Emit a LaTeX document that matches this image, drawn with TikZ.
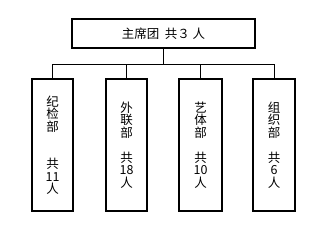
\documentclass[tikz,border=0pt]{standalone}
\usepackage{fontspec}
\setmainfont{Noto Sans CJK SC}
\begin{document}
\begin{tikzpicture}[x=1pt,y=-1pt,
  boxs/.style={draw,line width=2pt,inner sep=0pt},
  conn/.style={line width=1pt},
  vtext/.style={align=center,font=\fontsize{12.5}{12.5}\selectfont,inner sep=0pt}]
\useasboundingbox (0,0) rectangle (327,240);
\node[boxs,minimum width=183pt,minimum height=29pt,font=\fontsize{12.5}{14}\selectfont] (top) at (163.5,33.5) {主席团\ \ 共３ 人};
\node[boxs,minimum width=41pt,minimum height=132pt] (b1) at (52.5,145) {};
\node[boxs,minimum width=41pt,minimum height=132pt] (b2) at (126.5,145) {};
\node[boxs,minimum width=43pt,minimum height=132pt] (b3) at (200.5,145) {};
\node[boxs,minimum width=42pt,minimum height=132pt] (b4) at (274,145) {};
\node[vtext] (t1) at (b1) {纪\\检\\部\\ \\ \\共\\11\\人};
\node[vtext] (t2) at (b2) {外\\联\\部\\ \\共\\18\\人};
\node[vtext] (t3) at (b3) {艺\\体\\部\\ \\共\\10\\人};
\node[vtext] (t4) at (b4) {组\\织\\部\\ \\共\\6\\人};
\coordinate (j) at (top.south |- 0,64.5);
\draw[conn] (top.south) -- (j);
\draw[conn] (b1.north) |- (j);
\draw[conn] (b4.north) |- (j);
\draw[conn] (b2.north) -- (b2.north |- j);
\draw[conn] (b3.north) -- (b3.north |- j);
\end{tikzpicture}
\end{document}
